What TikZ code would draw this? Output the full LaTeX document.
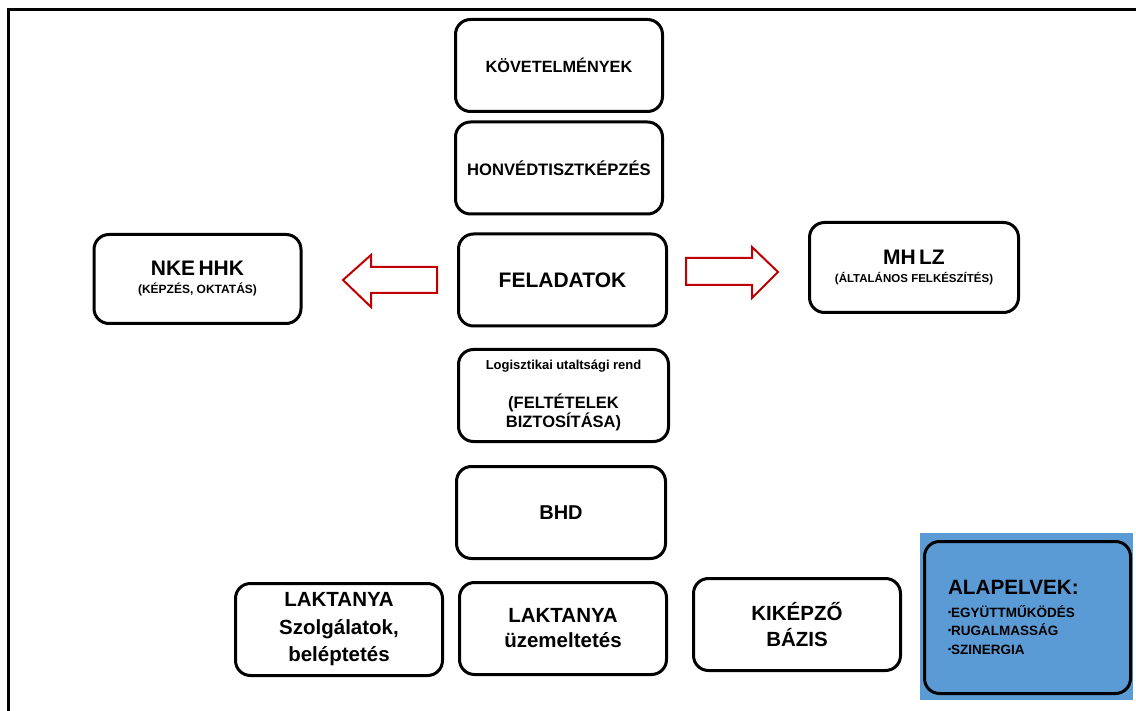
\documentclass[tikz,border=0pt]{standalone}
\usepackage{fontspec}
\setmainfont{Liberation Sans}
\definecolor{arrowred}{HTML}{C00000}
\definecolor{boxblue}{HTML}{5B9BD5}
\newcommand{\bul}{{\fontsize{9}{9}\selectfont\raisebox{2pt}{•}}}
\newcommand{\fs}[2]{\fontsize{#1}{#2}\selectfont}
\begin{document}
\begin{tikzpicture}[x=1pt,y=-1pt]

      \useasboundingbox (0,0) rectangle (1136,711);

      % frame
      \draw[line width=3pt] (8.5,711) -- (8.5,9.5) -- (1136,9.5);

      % blue background behind the principles
      \fill[boxblue] (920,533) rectangle (1133,700);

      \begin{scope}[every node/.style={draw, line width=3pt, rounded corners=15pt,
          minimum width=207pt, minimum height=92pt, inner sep=0pt,
          text width=200pt, align=center, font=\bfseries}]
        \node (1)  at (559,65.5)   {\fs{16.3}{19}KÖVETELMÉNYEK\par};
        \node (2)  at (559,168)    {\fs{16.6}{19}HONVÉDTISZTKÉPZÉS\par};
        \node[minimum width=208pt] (3) at (562.5,280) {\fs{21}{24}FELADATOK\par};
        \node[minimum height=89pt] (4) at (197.5,279)
          {\fs{21}{24}NKE HHK\par\fs{12}{18}(KÉPZÉS, OKTATÁS)\par};
        \node[minimum width=209pt, minimum height=90pt] (5) at (914,267.5)
          {\fs{21}{24}MH LZ\par\fs{11.5}{18}(ÁLTALÁNOS FELKÉSZÍTÉS)\par};
        \node[minimum width=210pt] (6) at (563.5,395.5)
          {\fs{13}{16}Logisztikai utaltsági rend\par\vspace{20pt}\fs{16.5}{19}(FELTÉTELEK\par BIZTOSÍTÁSA)\par};
        \node[minimum width=209pt] (7) at (561,512.5) {\fs{20}{24}BHD\par};
        \node (8)  at (339,629.5)  {\fs{20.5}{27.5}LAKTANYA\par Szolgálatok,\par beléptetés\par};
        \node (9)  at (563,628.5)  {\fs{20.5}{25}LAKTANYA\par üzemeltetés\par};
        \node (10) at (797,624.5)  {\fs{20.5}{26}KIKÉPZŐ\par BÁZIS\par};
        \node[fill=boxblue, minimum width=206pt, minimum height=152pt,
          text width=159pt, inner xsep=23.5pt, align=left] (11) at (1027.5,617.5)
          {\fs{20.7}{24}ALAPELVEK:\par\vspace{4pt}\fs{13.5}{18.5}\bul EGYÜTTMŰKÖDÉS\par\bul RUGALMASSÁG\par\bul SZINERGIA\par};
      \end{scope}

      % block arrows out of the tasks
      \begin{scope}[draw=arrowred, line width=2pt, fill=white, line join=miter]
        \filldraw (343,280) -- (371,255) -- (371,267) -- (437,267)
          -- (437,293) -- (371,293) -- (371,307) -- cycle;
        \filldraw (778,272) -- (752,247) -- (752,258) -- (686,258)
          -- (686,285) -- (752,285) -- (752,298) -- cycle;
      \end{scope}

    \end{tikzpicture}
\end{document}
